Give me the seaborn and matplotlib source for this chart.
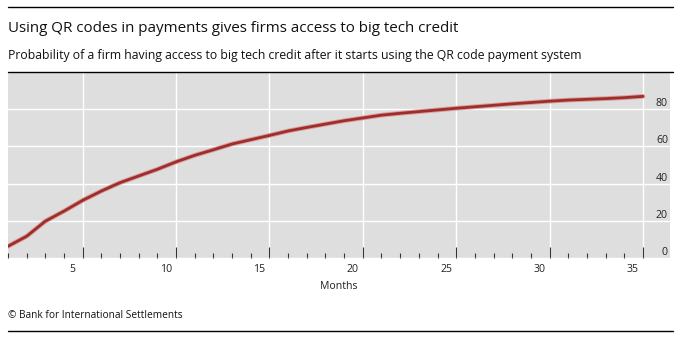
import matplotlib
matplotlib.use("Agg")
import matplotlib.pyplot as plt
from matplotlib.lines import Line2D
from matplotlib.transforms import ScaledTranslation
import seaborn as sns
import pandas as pd

# ---- data ----
months = list(range(1, 36))
probability = [6.3, 11.7, 19.8, 25.2, 31.0, 36.0, 40.5, 44.1, 47.7, 51.7,
               55.2, 58.2, 61.3, 63.6, 65.9, 68.3, 70.2, 72.0, 73.8, 75.3,
               76.8, 77.8, 78.7, 79.6, 80.5, 81.3, 82.1, 82.9, 83.6, 84.3,
               84.9, 85.3, 85.7, 86.2, 86.9]
x_major_ticks = [5, 10, 15, 20, 25, 30, 35]
y_ticks = [0, 20, 40, 60, 80]
title = "Using QR codes in payments gives firms access to big tech credit"
subtitle = ("Probability of a firm having access to big tech credit after it "
            "starts using the QR code payment system")
x_label = "Months"
footer = "\u00a9 Bank for International Settlements"

df = pd.DataFrame({"month": months, "prob": probability})

sns.set_style("white")
plt.rcParams["font.family"] = ["Open Sans", "DejaVu Sans"]

W, H = 682, 345
fig = plt.figure(figsize=(W / 100, H / 100), dpi=100)
ax = fig.add_axes([8 / W, 1 - 258 / H, (670 - 8) / W, (258 - 72) / H])
ax.set_facecolor("#dedede")

sns.lineplot(data=df, x="month", y="prob", ax=ax, color="#dc9d9b", lw=3.4, zorder=3)
sns.lineplot(data=df, x="month", y="prob", ax=ax, color="#9c2e2c", lw=2.0, zorder=4)

ax.set_xlim(1, 36.45)
ax.set_ylim(0, 100)
ax.set_xticks(x_major_ticks)
ax.set_xticks(months, minor=True)
ax.set_yticks(y_ticks)
ax.grid(True, which="major", color="white", lw=1.0, zorder=1)
ax.set_axisbelow(True)
for s in ax.spines.values():
    s.set_visible(False)

ax.tick_params(axis="x", which="major", bottom=True, direction="in", length=8,
               width=0.8, color="#333333", pad=4, labelsize=7.6, labelcolor="#222222")
ax.tick_params(axis="x", which="minor", bottom=True, direction="in", length=3.6,
               width=0.8, color="#333333")
ax.yaxis.tick_right()
ax.tick_params(axis="y", length=0, pad=-1.5, labelsize=7.6, labelcolor="#222222")

ax.set_xlabel(x_label, fontsize=7.6, color="#222222")
ax.xaxis.set_label_coords(0.5, -0.125)
ax.set_ylabel("")

dx = ScaledTranslation(-10 / 100, 0, fig.dpi_scale_trans)
for lab in ax.get_xticklabels():
    lab.set_transform(lab.get_transform() + dx)
dy = ScaledTranslation(0, 7 / 100, fig.dpi_scale_trans)
for lab in ax.get_yticklabels():
    lab.set_horizontalalignment("right")
    lab.set_transform(lab.get_transform() + dy)

# header / footer
fig.text(8 / W, 1 - 32 / H, title, fontsize=10.9, color="#111111", va="baseline")
fig.text(8 / W, 1 - 59 / H, subtitle, fontsize=8.87, color="#111111", va="baseline")
fig.text(8 / W, 1 - 315 / H, footer, fontsize=7.3, color="#111111", va="center")
for yy in (7, 71.5, 331):
    fig.add_artist(Line2D([8 / W, 673 / W], [1 - yy / H] * 2, color="black", lw=1.0))

fig.savefig("out.png", dpi=100)
